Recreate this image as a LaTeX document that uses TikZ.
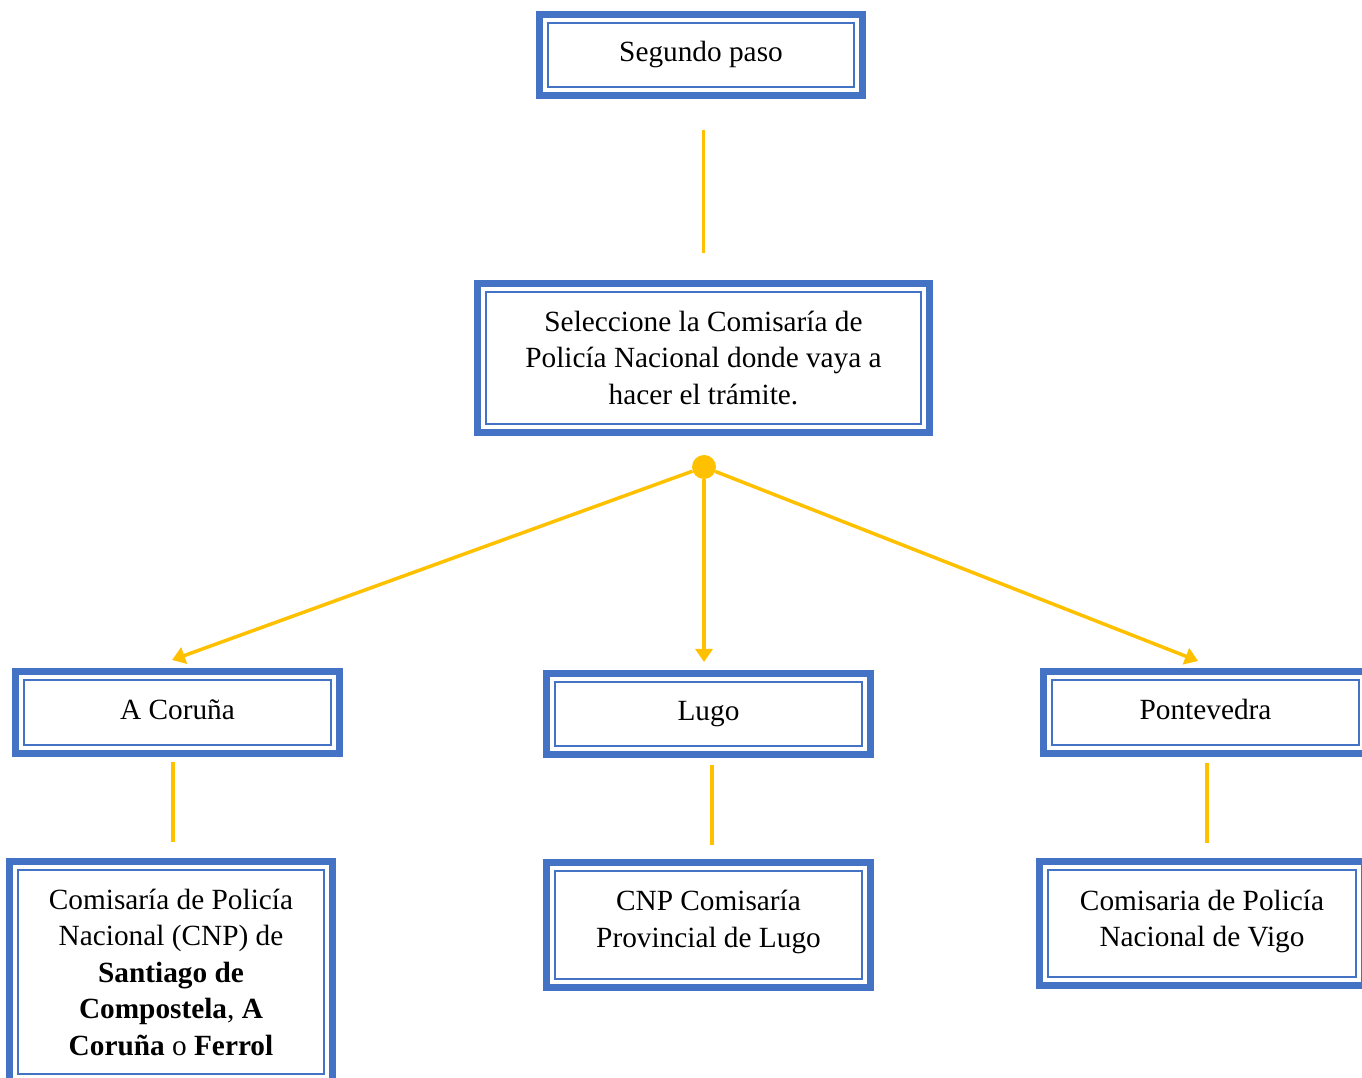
\documentclass[tikz,border=0pt]{standalone}
\usepackage{fontspec}
\setmainfont{Liberation Serif}
\usetikzlibrary{arrows.meta}
\definecolor{bblue}{HTML}{4472C4}
\definecolor{yell}{HTML}{FFC000}
\begin{document}
\begin{tikzpicture}[x=1pt,y=1pt,
  box/.style={draw=bblue, line width=7.5pt, fill=white, inner sep=0pt, outer sep=0pt, align=center,
    font=\fontsize{29.3}{36.5}\selectfont},
  inner/.style={draw=bblue, line width=2.4pt},
  link/.style={draw=yell, line width=3.5pt},
  arr/.style={draw=yell, line width=3.5pt, -{Triangle[length=13pt,width=17pt]}}]
\useasboundingbox (0,0) rectangle (1362,1077);
\node[box, minimum width=323, minimum height=81] (seg) at (701,1022) {Segundo paso};
\node[box, minimum width=452, minimum height=149] (sel) at (703.5,719) {Seleccione la Comisaría de\\Policía Nacional donde vaya a\\hacer el trámite.};
\node[box, minimum width=324, minimum height=82] (cor) at (177.5,364.5) {A Coruña\rule[-6pt]{0pt}{0pt}};
\node[box, minimum width=324, minimum height=81] (lugo) at (708.5,363) {Lugo\rule[-4pt]{0pt}{0pt}};
\node[box, minimum width=324, minimum height=82] (pont) at (1205.5,364.5) {Pontevedra\rule[-6pt]{0pt}{0pt}};
\node[box, minimum width=323, minimum height=221] (cnpa) at (171,105) {Comisaría de Policía\\Nacional (CNP) de\\\textbf{Santiago de}\\\textbf{Compostela}, \textbf{A}\\\textbf{Coruña} o \textbf{Ferrol}};
\node[box, minimum width=324, minimum height=125] (cnpb) at (708.5,152) {CNP Comisaría\\Provincial de Lugo\rule[-12pt]{0pt}{0pt}};
\node[box, minimum width=325, minimum height=124] (vigo) at (1202,153.5) {Comisaria de Policía\\Nacional de Vigo\rule[-10pt]{0pt}{0pt}};
\foreach \n in {seg,sel,cor,lugo,pont,cnpa,cnpb,vigo}{
  \draw[inner] ([shift={(8.5,-8.5)}]\n.north west) rectangle ([shift={(-8.5,8.5)}]\n.south east);
}
\draw[link, shorten <=34.5pt, shorten >=30.5pt] (seg.south -| sel.north) -- (sel.north);
\node[circle, fill=yell, inner sep=0pt, minimum size=24pt] (dot) at (704,610) {};
\coordinate (ta) at (172,417);
\coordinate (tb) at (704,415);
\coordinate (tc) at (1198,416);
\draw[arr] (dot) -- (ta);
\draw[arr] (dot) -- (tb);
\draw[arr] (dot) -- (tc);
\draw[link, shorten <=8.5pt, shorten >=19.5pt] ([xshift=-4.5pt]cor.south) -- ([xshift=-4.5pt]cor.south |- cnpa.north);
\draw[link, shorten <=10.5pt, shorten >=17.5pt] ([xshift=3.5pt]lugo.south) -- ([xshift=3.5pt]lugo.south |- cnpb.north);
\draw[link, shorten <=9.5pt, shorten >=18.5pt] ([xshift=1.5pt]pont.south) -- ([xshift=1.5pt]pont.south |- vigo.north);
\end{tikzpicture}
\end{document}
